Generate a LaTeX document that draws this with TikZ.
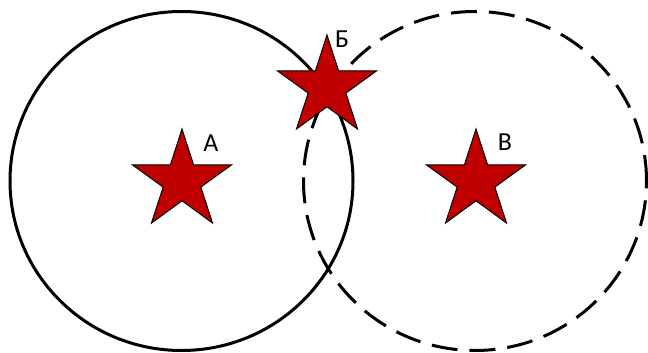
\documentclass[tikz,border=0pt]{standalone}
\usepackage{fontspec}
\setmainfont{Carlito}
\usepackage{tikz}
\usetikzlibrary{shapes.geometric,positioning}
\definecolor{starred}{RGB}{192,0,0}

\begin{document}
\begin{tikzpicture}[x=1pt,y=1pt,
  zone/.style={draw,line width=3pt,ellipse,inner sep=0pt,
    minimum width=343pt,minimum height=339pt},
  redstar/.style={star,star points=5,star point ratio=2.63,draw,
    line width=1pt,fill=starred,inner sep=0pt,minimum size=104pt},
  every node/.style={font=\fontsize{26}{30}\selectfont}]
  \useasboundingbox (0,0) rectangle (648,353);
  % the two zones
  \node[zone] (zA) at (181.5,172) {};
  \node[zone,dash pattern=on 26pt off 12pt] (zV) at (475,172) {};
  % the stars
  \node[redstar] (sA) at (182,172) {};
  \node[redstar] (sB) at (327,266) {};
  \node[redstar] (sV) at (476,172) {};
  \node (lA) at (211,210) {А};
  \node (lB) at (342,314) {Б};
  \node (lV) at (505,211) {В};
\end{tikzpicture}
\end{document}
